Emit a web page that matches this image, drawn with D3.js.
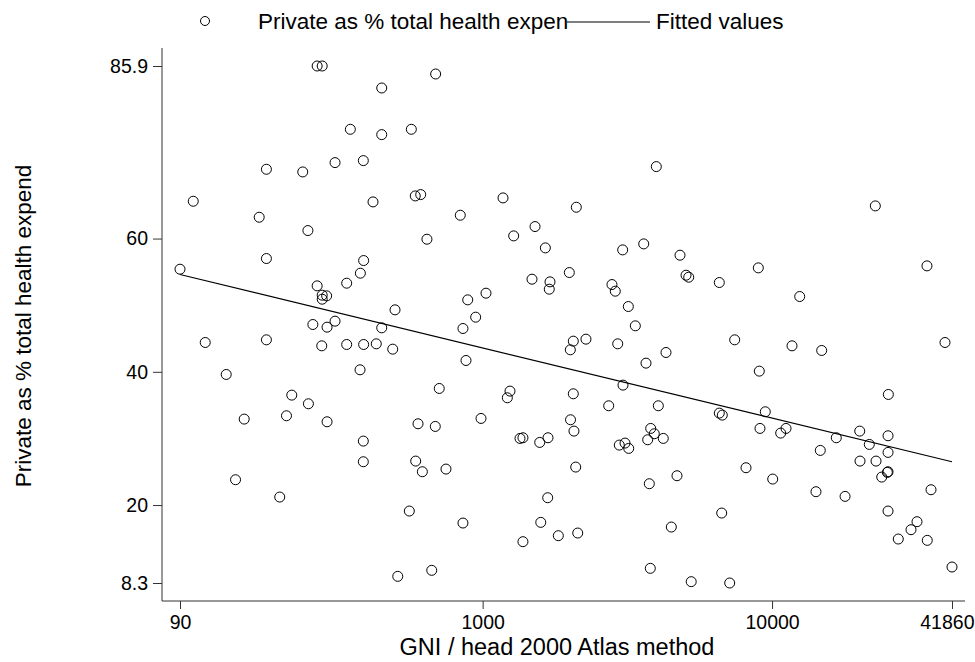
<!DOCTYPE html>
<html>
<head>
<meta charset="utf-8">
<script src="https://cdn.jsdelivr.net/npm/d3@7"></script>
<style>
  body { margin: 0; background: #fff; }
  svg { display: block; font-family: "Liberation Sans", Arial, sans-serif; }
</style>
</head>
<body>
<svg width="975" height="662"></svg>
<script>
// GNI per head (2000, Atlas method) and private share of total health expenditure
let gni = [268, 279, 448, 349, 448, 567, 179, 239, 309, 387, 100, 169, 249, 418, 585, 611, 642, 688, 3982, 1176,
  837, 2107, 1517, 1280, 3602, 22745, 1647, 3047, 90, 179, 388, 378, 339, 268, 279, 289, 279, 498, 259, 290,
  309, 448, 110, 179, 278, 339, 388, 429, 489, 377, 130, 219, 250, 4808, 5044, 5153, 1481, 1709, 1699, 1993,
  2798, 2873, 3187, 3370, 888, 1027, 946, 855, 2057, 2009, 2275, 2929, 4301, 3668, 876, 708, 1243, 1217, 2057, 3055,
  2726, 4046, 6572, 8965, 12462, 34300, 7429, 11721, 14843, 39590, 9036, 25228, 6572, 6731, 9477, 150, 210, 290, 598, 387,
  387, 587, 619, 140, 199, 558, 509, 667, 686, 987, 1346, 1378, 1575, 1682, 2012, 2068, 2966, 3104, 3197, 3808,
  3919, 3718, 4209, 747, 2097, 3766, 4694, 1678, 855, 1588, 1378, 1826, 2131, 4487, 3796, 5256, 9085, 10711, 11176, 16671,
  20091, 21680, 25164, 14679, 25164, 20137, 22871, 25164, 25022, 23932, 8129, 10053, 14183, 17877, 35424, 6699, 25164, 31686, 30210, 27304,
  34383, 41860, 7139];
let privShare = [85.9, 85.9, 82.6, 76.4, 75.6, 76.4, 70.4, 70.0, 71.4, 71.7, 65.6, 63.2, 61.2, 65.5, 66.4, 66.6, 59.9, 84.7, 70.8, 66.1,
  63.5, 64.7, 61.8, 60.4, 59.2, 64.9, 58.6, 58.3, 55.4, 57.0, 56.7, 54.8, 53.3, 52.9, 51.5, 51.4, 50.9, 49.3, 47.1, 46.7,
  47.6, 46.6, 44.4, 44.8, 43.9, 44.1, 44.1, 44.2, 43.4, 40.3, 39.6, 36.5, 35.2, 57.5, 54.5, 54.2, 53.9, 53.5, 52.4, 54.9,
  53.1, 52.1, 49.8, 46.9, 50.8, 51.8, 48.2, 46.5, 44.6, 43.3, 44.9, 44.2, 42.9, 41.3, 41.7, 37.5, 37.1, 36.1, 36.7, 38.0,
  34.9, 34.9, 53.4, 55.6, 51.3, 55.9, 44.8, 43.9, 43.2, 44.4, 40.1, 36.6, 33.8, 33.5, 34.0, 32.9, 33.4, 32.5, 32.2, 29.6,
  26.5, 26.6, 25.0, 23.8, 21.2, 19.1, 9.3, 10.2, 31.8, 33.0, 30.0, 30.1, 29.4, 30.1, 32.8, 31.1, 29.0, 29.3, 28.5, 31.5,
  30.7, 29.8, 30.0, 25.4, 25.7, 23.2, 24.4, 21.1, 17.3, 17.4, 14.5, 15.4, 15.8, 16.7, 10.5, 8.5, 31.5, 30.8, 31.5, 30.1,
  31.1, 29.1, 30.4, 28.2, 27.9, 26.6, 26.6, 25.0, 24.9, 24.2, 25.6, 23.9, 22.0, 21.3, 22.3, 18.8, 19.1, 17.5, 16.3, 14.9,
  14.7, 10.7, 8.3];

// fitted values (regression on log GNI), end points
let fitX = [90, 41860];
let fitY = [54.6, 26.5];

let xTicks = [90, 1000, 10000, 41860];
let yTicks = [8.3, 20, 40, 60, 85.9];

let svg = d3.select('svg');

let x = d3.scaleLog().domain([90, 41860]).range([180, 952]);
let y = d3.scaleLinear().domain([8.3, 85.9]).range([583, 66]);

let axisLeftX = 162;
let axisBottomY = 601;

// axes
let xAxis = svg.append('g')
  .attr('transform', 'translate(0,' + axisBottomY + ')')
  .call(d3.axisBottom(x).tickValues(xTicks).tickFormat(d3.format('d')).tickSize(8).tickSizeOuter(0).tickPadding(5));
xAxis.select('.domain').attr('d', 'M' + axisLeftX + ',0H965');

let yAxis = svg.append('g')
  .attr('transform', 'translate(' + axisLeftX + ',0)')
  .call(d3.axisLeft(y).tickValues(yTicks).tickFormat(d => d).tickSize(9).tickSizeOuter(0).tickPadding(5));
yAxis.select('.domain').attr('d', 'M0,48V' + axisBottomY);

svg.selectAll('.tick text').attr('font-size', 19.5).attr('fill', '#000');
svg.selectAll('.tick line').attr('stroke', '#333');
svg.selectAll('.domain').attr('stroke', '#333');
xAxis.selectAll('.tick text').attr('dy', '0.75em');
// keep the last x label inside the page
xAxis.selectAll('.tick text').filter(d => d === 41860).attr('text-anchor', 'end').attr('dx', 22);

// axis titles
svg.append('text')
  .attr('x', 557).attr('y', 655)
  .attr('text-anchor', 'middle').attr('font-size', 23.5)
  .text('GNI / head 2000 Atlas method');

svg.append('text')
  .attr('transform', 'translate(31,326) rotate(-90)')
  .attr('text-anchor', 'middle').attr('font-size', 22.5)
  .text('Private as % total health expend');

// fitted line
let points = gni.map((g, i) => ({g: g, p: privShare[i]}));
let fit = fitX.map((g, i) => ({g: g, p: fitY[i]}));

svg.append('path')
  .datum(fit)
  .attr('fill', 'none').attr('stroke', '#000').attr('stroke-width', 1.2)
  .attr('d', d3.line().x(d => x(d.g)).y(d => y(d.p)));

// scatter
svg.append('g')
  .selectAll('circle')
  .data(points)
  .enter()
  .append('circle')
  .attr('cx', d => x(d.g))
  .attr('cy', d => y(d.p))
  .attr('r', 5)
  .attr('fill', 'none')
  .attr('stroke', '#000')
  .attr('stroke-width', 1);

// legend
let legend = svg.append('g');
legend.append('circle').attr('cx', 205).attr('cy', 21).attr('r', 4.5)
  .attr('fill', 'none').attr('stroke', '#000');
legend.append('text').attr('x', 258).attr('y', 29).attr('font-size', 22.5)
  .text('Private as % total health expen');
legend.append('line').attr('x1', 567).attr('x2', 650).attr('y1', 22).attr('y2', 22)
  .attr('stroke', '#000').attr('stroke-width', 1.2);
legend.append('text').attr('x', 656).attr('y', 29).attr('font-size', 22.5)
  .text('Fitted values');
</script>
</body>
</html>
